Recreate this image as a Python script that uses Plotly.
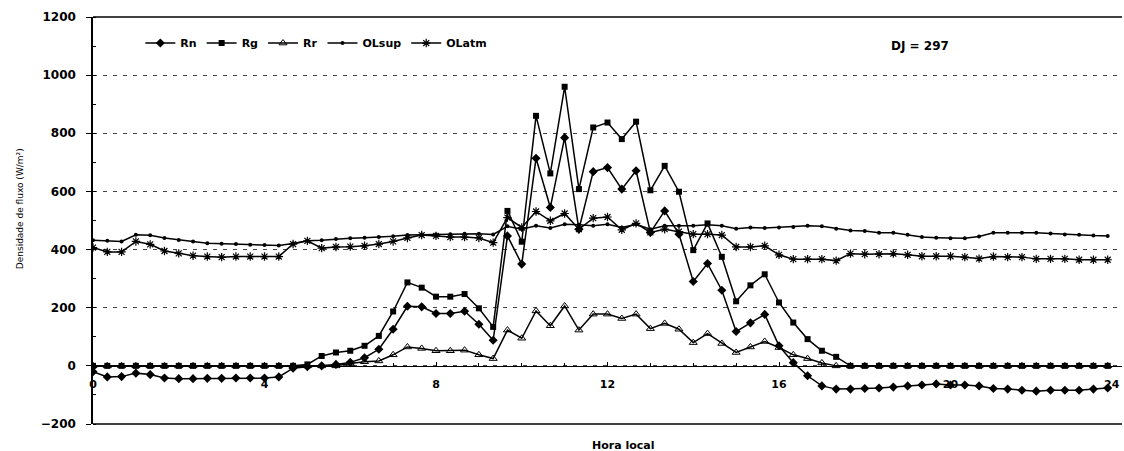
import plotly.graph_objects as go

# time of day (h), 20-minute steps from 00:00 to 23:40
hours = [i / 3 for i in range(72)]

Rn = [-20, -38, -37, -25, -30, -42, -44, -44, -43, -43, -42, -42, -42, -38, -8, -3,
      0, 5, 12, 28, 57, 126, 205, 203, 180, 180, 188, 143, 88, 447, 350, 714,
      545, 785, 470, 668, 682, 608, 671, 459, 533, 453, 290, 352, 260, 118,
      148, 177, 69, 11, -34, -69, -80, -80, -78, -76, -73, -69, -66, -62,
      -66, -66, -69, -78, -80, -84, -87, -84, -84, -84, -80, -76]

Rg = [0, 0, 0, 0, 0, 0, 0, 0, 0, 0, 0, 0, 0, 0, 0, 5,
      34, 46, 52, 69, 103, 187, 287, 269, 238, 238, 247, 198, 134, 533, 427, 860,
      662, 960, 608, 820, 837, 780, 840, 604, 688, 599, 398, 490, 375, 222,
      277, 315, 218, 149, 92, 52, 31, 0, 0, 0, 0, 0, 0, 0,
      0, 0, 0, 0, 0, 0, 0, 0, 0, 0, 0, 0]

Rr = [0, 0, 0, 0, 0, 0, 0, 0, 0, 0, 0, 0, 0, 0, 0, 0,
      0, 0, 8, 14, 17, 38, 65, 60, 52, 52, 54, 38, 25, 123, 95, 189,
      138, 206, 123, 178, 178, 163, 178, 128, 146, 126, 80, 111, 77, 46,
      65, 84, 63, 38, 25, 10, 0, 0, 0, 0, 0, 0, 0, 0,
      0, 0, 0, 0, 0, 0, 0, 0, 0, 0, 0, 0]

OLsup = [432, 430, 428, 451, 449, 440, 433, 428, 422, 420, 419, 417, 416, 414, 421, 430,
         432, 436, 439, 441, 443, 446, 450, 452, 452, 453, 454, 454, 452, 480, 470, 482,
         474, 487, 485, 482, 487, 476, 487, 470, 482, 482, 482, 485, 482, 472,
         476, 474, 476, 478, 482, 480, 472, 466, 464, 458, 458, 451, 443, 441,
         439, 439, 445, 458, 458, 458, 458, 455, 452, 451, 448, 447]

OLatm = [407, 392, 392, 428, 418, 395, 387, 379, 376, 374, 376, 376, 376, 376, 419, 430,
         405, 409, 410, 413, 419, 428, 440, 450, 447, 443, 443, 440, 424, 510, 476, 531,
         499, 524, 470, 508, 512, 468, 490, 459, 470, 462, 453, 453, 450, 409,
         409, 413, 382, 367, 367, 367, 362, 386, 384, 384, 386, 382, 377, 377,
         377, 374, 369, 376, 374, 374, 368, 368, 368, 365, 365, 365]

x_ticks = [0, 4, 8, 12, 16, 20]
x_last_label = "24"
y_ticks = [-200, 0, 200, 400, 600, 800, 1000, 1200]

FONT = "DejaVu Sans"
series = [
    ("Rn", Rn, dict(symbol="diamond", size=7, color="black")),
    ("Rg", Rg, dict(symbol="square", size=6, color="black")),
    ("Rr", Rr, dict(symbol="triangle-up-open", size=7, color="black", line=dict(width=1, color="black"))),
    ("OLsup", OLsup, dict(symbol="circle", size=4, color="black")),
    ("OLatm", OLatm, dict(symbol="asterisk-open", size=7, color="black", line=dict(width=1.2, color="black"))),
]

fig = go.Figure()
for name, vals, mk in series:
    fig.add_trace(go.Scatter(x=hours, y=vals, name=name, mode="lines+markers",
                             line=dict(color="black", width=1.5), marker=mk))

fig.update_layout(
    width=1124, height=451,
    margin=dict(l=93, r=2, t=17, b=27, autoexpand=False),
    paper_bgcolor="white", plot_bgcolor="white",
    font=dict(family=FONT, color="black"),
    showlegend=True,
    legend=dict(orientation="h", x=0.046, y=0.936, xanchor="left", yanchor="middle",
                font=dict(family=FONT, size=11, weight="bold"),
                bgcolor="rgba(0,0,0,0)", itemwidth=30, tracegroupgap=0),
    xaxis=dict(range=[0, 24], tickvals=x_ticks, ticktext=[str(v) for v in x_ticks],
               anchor="free", position=200 / 1400, showline=True, linecolor="black", linewidth=1.3,
               ticks="inside", ticklen=4, tickcolor="black", showgrid=False, zeroline=False,
               ticklabelstandoff=8, automargin=False,
               tickfont=dict(family=FONT, size=11, weight="bold"),
               minor=dict(dtick=1, ticks="inside", ticklen=3, tickcolor="black", showgrid=False)),
    yaxis=dict(range=[-200, 1200], tickvals=y_ticks, showline=True, linecolor="black", linewidth=1.5,
               ticks="outside", ticklen=5, tickcolor="black", zeroline=False,
               ticklabelstandoff=8, automargin=False,
               showgrid=True, gridcolor="#444", gridwidth=1, griddash="4px,6px",
               tickfont=dict(family=FONT, size=12, weight="bold"),
               minor=dict(dtick=100, ticks="inside", ticklen=3, tickcolor="black", showgrid=False)),
)

# frame lines at top and bottom of the plotting area
fig.add_shape(type="line", xref="paper", yref="paper", x0=0, x1=1, y0=0, y1=0,
              line=dict(color="black", width=1.5))
fig.add_shape(type="line", xref="paper", yref="paper", x0=0, x1=1, y0=1, y1=1,
              line=dict(color="black", width=1.5))

# last x tick label, kept inside the page at the right edge
fig.add_annotation(text="<b>%s</b>" % x_last_label, x=1.0, y=0.098, xref="paper", yref="paper",
                   xanchor="right", yanchor="middle", showarrow=False,
                   font=dict(family=FONT, size=11))
fig.add_annotation(text="<b>DJ = 297</b>", x=19.3, y=1100, xref="x", yref="y",
                   showarrow=False, font=dict(family=FONT, size=12))
fig.add_annotation(text="<b>Hora local</b>", x=0.515, y=-0.052, xref="paper", yref="paper",
                   showarrow=False, yanchor="middle", font=dict(family=FONT, size=11))
fig.add_annotation(text="Densidade de fluxo (W/m²)", x=-0.071, y=0.53, xref="paper", yref="paper",
                   showarrow=False, textangle=-90, xanchor="center", yanchor="middle",
                   font=dict(family=FONT, size=9, color="black"))

fig.write_html("out.html")
